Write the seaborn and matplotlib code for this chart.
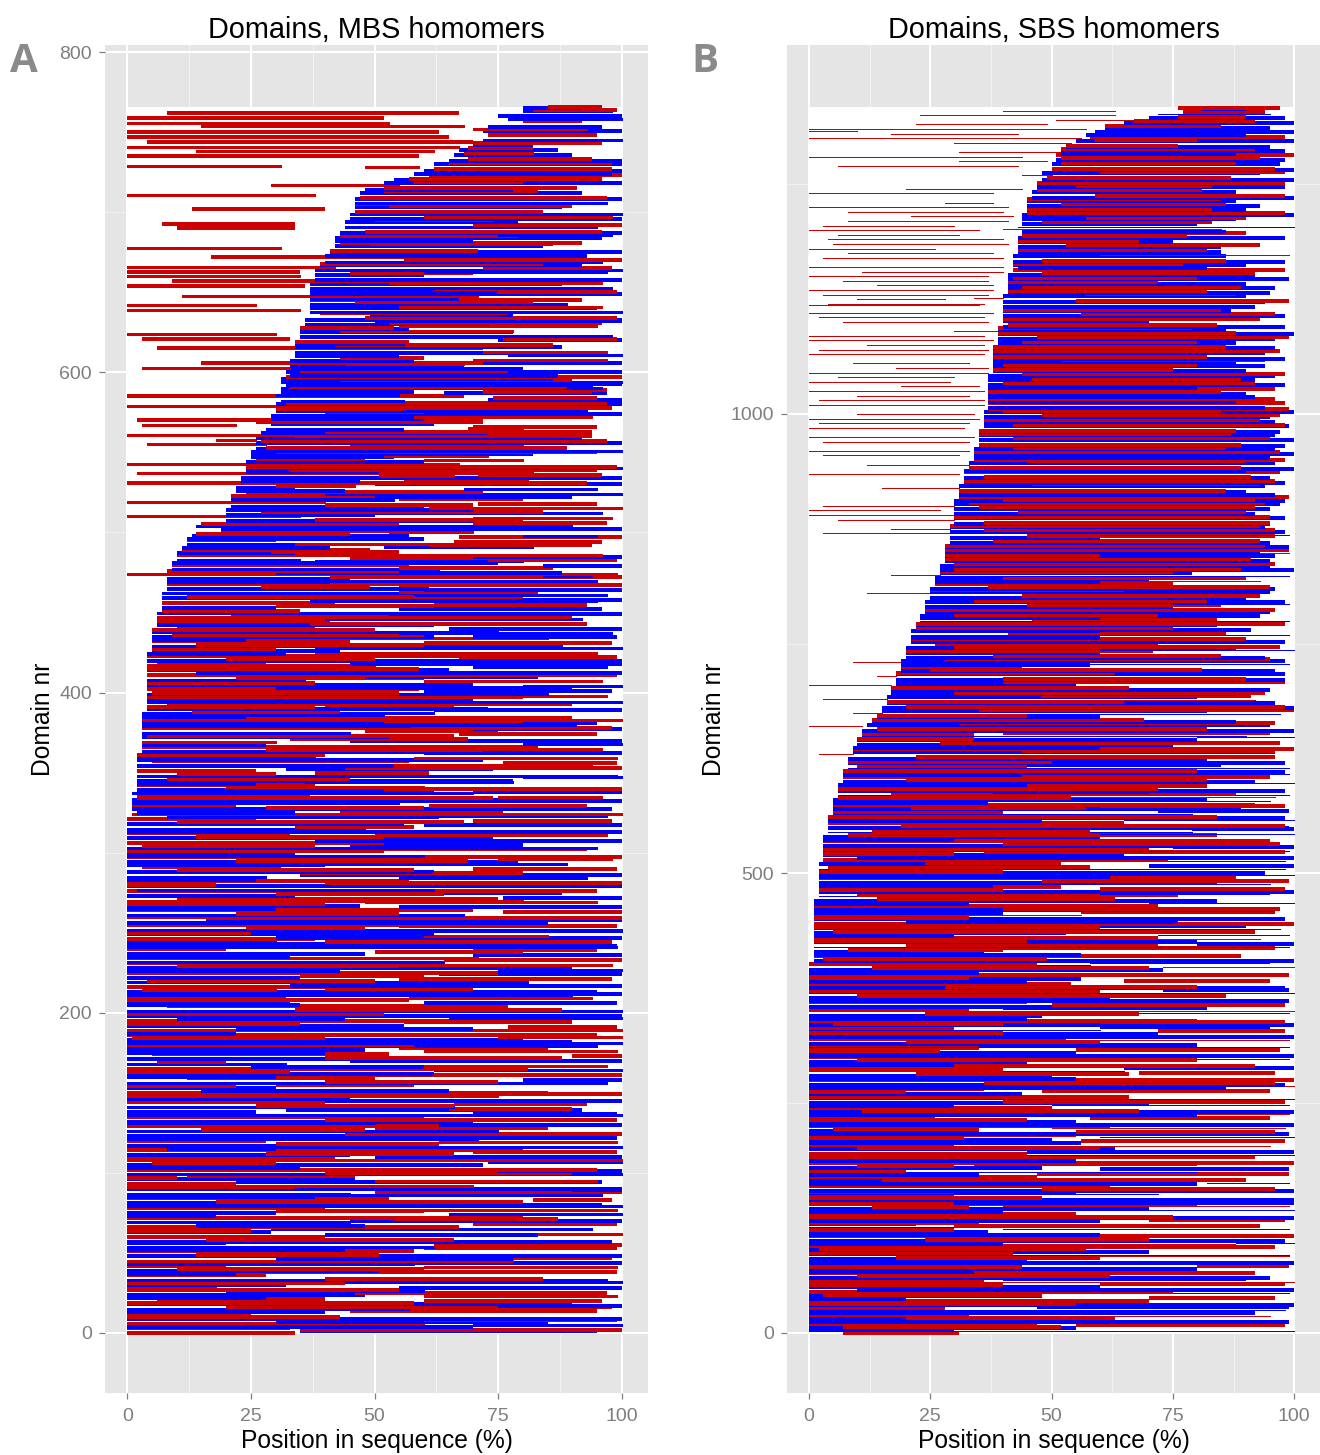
import matplotlib
matplotlib.use("Agg")
import matplotlib.pyplot as plt
from matplotlib.patches import Rectangle
from matplotlib.ticker import MultipleLocator, FixedLocator
import numpy as np
import pandas as pd
import seaborn as sns

# ---------------------------------------------------------------
# Data.  Each string is one band of domains, listed from the TOP of the
# panel downwards.  Tokens: colour/weight letter + start-end (% of sequence)
#   R = thick red, r = thin red, B = thick blue, b = thin blue
# Panel A: one band every 3 domains (765 ... 0)
# Panel B: one band every 5 domains (1330 ... 0)
# ---------------------------------------------------------------
TITLE_A = "Domains, MBS homomers"
TITLE_B = "Domains, SBS homomers"
XLABEL = "Position in sequence (%)"
YLABEL = "Domain nr"
X_TICKS = [0, 25, 50, 75, 100]
Y_TICKS_A = [0, 200, 400, 600, 800]
Y_TICKS_B = [0, 500, 1000]
N_DOMAINS_A = 766
N_DOMAINS_B = 1334
STEP_A = 3
STEP_B = 5

ROWS_A = [
    "B80-92 R85-96", "R8-67 b80-98 R82-99", "R0-52 B75-100", "r0-53 R80-92 b77-100",
    "B73-96 r15-68", "R0-63 B72-100 r70-93", "R0-65 R73-95", "R4-70 b72-100",
    "r0-67 B70-82 R70-96", "r14-62 B67-87 R69-82", "R0-59 B66-90 r68-82", "B65-100 R69-94",
    "r0-31 B62-100 R65-98", "B60-100 R62-98 r48-59", "R61-100 B58-98", "B54-88 R57-96",
    "r29-55 B52-100 R58-80", "B48-78 R52-91",
    "r0-38 B47-92 R52-83", "B46-100 R47-97", "R46-90 b46-97", "R13-40 B46-88 R53-90",
    "b45-100 R46-84", "B45-100 r60-98", "R7-34 B44-79 R50-74", "R10-34 b44-95 R70-100",
    "B43-100 R48-96", "B42-96 R43-79 b75-98", "R43-92 B42-70", "r0-31 B42-84 R49-86",
    "B41-100 R41-71", "R17-73 B40-93", "b40-96 R56-100", "r0-42 B39-92 R39-84",
    "R0-35 b38-100 R72-98", "r0-35 B38-60 R45-70 b60-97",
    "R9-63 B38-100", "R0-36 B37-88 r53-96", "B37-75 R62-96 b37-98", "r11-71 B37-100 R75-99",
    "R37-92 B37-67", "r0-26 b37-89 R46-82", "r0-35 B37-95 r55-96", "B49-78 R39-77 b37-100",
    "B36-100 R48-99", "b36-73 R53-96 B50-100", "B35-57 R35-54 r55-95", "r0-30 B35-78 r43-78",
    "R3-33 B35-75 b70-98", "b34-56 R34-57 B75-100 R76-99", "R6-72 B34-88 R42-86",
    "B34-90 r72-97", "R43-60 B34-55 b77-100",
    "R15-72 B33-58 r70-97", "r3-33 B33-68 r44-68 B60-100", "B32-100 R35-77 B32-80",
    "R32-100 B33-87", "b31-100 R43-90 B31-86", "R33-89 b32-94 B73-100", "B31-58 R77-97 b31-96",
    "R0-68 b30-55 B64-97 R72-94", "b31-56 B73-100 R74-95", "r0-68 B30-100 R32-97",
    "b30-93 R30-56 R56-98", "B29-58 B55-100 R40-60", "R2-72 B29-60 r58-94", "r3-22 B29-62 R26-72",
    "B28-56 r69-80 R70-95", "r0-68 B27-73 R40-94", "r18-26 B26-92 R34-94", "r4-28 B26-100 R27-97",
    "B26-70 R28-89 r45-80", "B25-82 R30-95 b25-100", "R26-48 B25-54 r52-73", "r0-67 B24-60 r60-80",
    "b24-100 R24-99", "r2-82 B24-51 R33-95", "B23-100 r51-66 R71-96", "R0-67 B23-47 r56-81",
    "B22-34 r30-46 B50-100 R52-93", "R24-72 B22-44 b68-95", "B21-90 R21-50 b40-100",
    "r0-40 b21-54 R55-80", "B21-60 R40-70 R71-95", "r27-57 B20-70 r61-100",
    "r0-35 B20-50 b38-96 R55-84", "B20-70 R38-80 r70-98", "b14-90 R15-55 R70-97", "R19-66 B19-100",
    "B13-57 R14-45 r53-70", "R12-30 B12-60 R67-100 b80-95", "B12-34 r34-66 R66-96",
    "R11-49 B11-41 b52-82 R61-94", "r10-96 B10-34 R29-55", "b10-35 R45-94 B70-100",
    "R9-57 B9-75 b38-80 R73-99", "b9-63 R55-86 B84-100", "r0-99 B30-88 R8-55",
    "B8-45 R41-100 b84-94", "R8-83 B8-41 b35-95", "B8-61 R27-49 R55-100", "b7-60 R55-83 B60-100",
    "B7-65 R12-80 b58-97", "R7-42 b37-95 B50-100", "B7-30 R30-62 R62-93", "b6-57 R7-35 B55-96",
    "r6-55 R21-70 B53-100",
    "B6-23 R6-41 b40-92 R55-90", "R10-38 B6-62 R37-93", "b5-75 R5-50 B65-100", "B5-62 R9-60 b55-98",
    "R5-45 B5-24 r25-85 B70-99", "b5-88 R14-60 R60-98", "B5-43 R5-30 b38-100", "R4-72 B4-32 r38-95",
    "B4-100 R20-50 R67-99", "r4-50 B45-100 R6-28", "B4-65 R4-59 b70-97", "R4-85 B14-100",
    "b4-36 R22-60 B48-83 R75-99", "B4-70 R4-38 r60-96", "R4-59 B30-90 b80-100",
    "b4-85 R5-55 B60-98", "B4-64 R4-80 r75-97", "R8-90 b4-100 B40-70",
    "B4-73 R4-38 R40-66", "b3-62 R13-43 B62-100", "R3-90 B3-24 b24-52", "B3-95 R52-80 r3-100",
    "R3-98 b3-57 B57-91", "b3-45 R48-75 B70-100", "B3-53 R4-66 R67-95", "r3-30 B45-100 R33-69",
    "R3-83 B3-28 b80-100", "B3-91 R28-72 r72-96", "b2-38 R2-40 B60-100", "R5-57 B2-72 r58-99",
    "B2-54 r54-94 R76-99", "R2-26 B32-74 R44-100", "b2-99 R10-30 R38-61", "B2-78 R8-45 b80-100",
    "R2-38 B2-26 b36-78", "B2-62 R52-100 r20-60", "R2-37 b1-70 B70-100",
    "B1-85 R2-74 r75-96", "R1-22 b1-55 B44-100", "B1-98 R28-60 R61-93", "r1-100 B2-34 R43-76",
    "R0-26 B8-63 b60-97", "B0-56 R10-68 R70-98", "b0-48 R34-58 B60-100", "R0-33 B0-100",
    "B0-74 R14-52 r50-97", "R0-52 B38-100", "b0-95 R3-38 B45-80", "B0-34 R0-52 R52-93",
    "R0-100 b0-60", "B0-79 R22-69 r75-98", "R3-31 B0-40 b40-89", "B0-62 R10-58 R70-99",
    "b0-28 B35-100 R35-80", "R0-57 B0-26 b55-93",
    "B0-100 R0-18 R40-100", "R0-95 b2-62", "B0-34 R30-64 B64-88", "r0-80 R10-75 B76-100",
    "B0-47 R0-40 r48-95", "R0-70 B0-30 B55-100", "b0-68 R22-55 R76-100", "B16-100 R16-100 r0-16",
    "R0-55 B0-85", "b0-100 R24-48 R55-99", "B0-62 R0-25 b62-100", "R0-38 B30-100 r60-85",
    "B0-71 R40-98 b0-30", "R0-20 b0-99 B59-99", "B0-48 R50-80 R70-95", "r0-71 B0-33 B70-100",
    "R0-30 b0-64 R64-100", "B0-90 R10-55 r55-98",
    "R0-75 B0-43 b75-100", "B0-35 R35-60 B63-100", "b0-81 R4-50 R55-98", "R0-68 B33-100",
    "B0-95 r3-30 R40-70", "R0-32 b0-90 B55-100", "B0-33 R0-57 r57-94", "R8-77 B0-35 B60-99",
    "b0-100 R34-88", "B0-100 R0-52", "R0-73 B10-44 b65-100", "B0-56 R0-35 R56-90",
    "r0-100 B22-70 R77-99", "R0-95 B0-22", "B0-80 R1-40 r75-100", "R0-58 b0-100 B70-90",
    "B0-48 R55-85 b0-95", "R5-53 B0-40 r60-99",
    "B0-65 R40-88 R90-100", "b0-32 R6-20 B45-100", "R0-81 B25-60 r60-97", "B0-62 R0-33 b62-100",
    "R12-50 B0-30 R50-100", "b0-97 R40-75 B80-100", "B0-30 R0-22 R30-58 b57-95", "R0-85 B15-65",
    "B0-45 r0-75 R75-100", "R0-40 B40-100 b0-40", "b0-66 R26-66 R66-93", "B0-26 B32-92 R65-90",
    "R0-60 b0-100 B70-99", "B0-70 R40-99", "R0-63 B63-100 b0-50", "b0-75 R15-48 R50-85",
    "B0-88 R44-100", "R0-28 b0-71 B71-99",
    "B0-63 R30-63 r63-99", "R0-80 B8-30 b30-100", "B0-45 R28-66 R70-99", "r0-100 R0-42 B50-100",
    "B0-72 R5-30 b73-100", "R0-95 B0-35", "b0-75 R40-90 B75-100", "B0-46 R0-10 R12-46 b46-100",
    "R0-22 B22-96 r50-95", "B0-100 R0-34 r34-70", "b0-45 R50-100 B90-100", "R0-53 B0-38 b38-96",
    "B0-80 R18-80 R82-98", "R0-40 b0-100 B60-96", "B0-30 R30-60 r60-99", "R0-80 B0-18 b65-100",
    "b0-45 B45-100 R54-87", "R0-67 B14-48 R70-99",
    "B0-29 R0-25 b29-94", "R0-40 B40-83 r83-100", "B0-98 R16-66", "b0-62 R62-100 B0-20",
    "R0-58 B0-44 R60-99", "B0-100 R14-51", "r0-78 B30-78 R78-98", "R0-20 b0-58 B58-100",
    "B0-51 R10-60 r60-99", "R0-28 B0-22 R28-99", "b0-97 R40-84", "B0-32 R0-44 b44-100",
    "R0-55 B55-100 r0-18", "B0-48 R46-97 b20-60", "R6-40 B0-28 r60-99", "B0-90 R0-58 R60-96",
    "b0-57 R20-98 B75-100", "R0-25 B0-40 R45-95", "B0-100 R0-43", "r0-60 B30-85 R60-99",
    "R0-33 B0-70 b70-100", "R0-34 B35-95 R35-100",
]

ROWS_B = [
    "r40-63 B81-90 R76-97", "r23-63 b72-95 R77-94", "r51-71 B70-98 R76-90", "r22-49 B65-100 R67-92",
    "r0-57 B61-95 R61-85", "r17-43 B59-100 r0-10", "r0-56 R58-98 B57-90", "r30-54 B55-100 R59-80",
    "B53-95 R53-76", "r31-53 B52-98 R52-92", "r0-44 R51-100 B52-88", "r31-49 B51-98 R52-93",
    "r6-43 B50-97 R52-88", "B50-100 R50-96", "r44-50 B48-93 R60-98", "B48-100 R49-87",
    "B47-90 R47-98", "r20-44 B47-98 R55-83", "r0-38 B46-88 R47-81", "B46-100 R59-98",
    "r28-38 B45-88 R45-85", "r0-41 B45-93 R52-86", "r8-40 B45-90 R45-83", "r21-42 B44-100 R45-98",
    "r8-41 B44-88 R57-90", "r3-30 B44-80 R48-83", "r0-35 r40-85 b43-100", "r6-31 R44-90 B44-86",
    "r4-40 B43-98 R44-78", "r5-41 B43-75 R43-68", "r0-26 B43-85 R53-93", "r8-38 B43-85 R43-82",
    "r3-40 B42-86 r60-99", "B42-98 R48-86", "r0-40 B42-90 R42-77", "r11-40 R42-98 B43-82",
    "r0-37 B41-92 R48-92", "r7-37 B41-99 R42-80", "r14-38 B41-90 R41-72", "r0-38 B41-96 R44-89",
    "r3-37 B41-95 R41-82", "r10-28 r34-40 B40-90 R57-88", "r4-36 B40-94 R55-99", "R41-85 B40-92 r0-35",
    "r0-38 B40-87 R40-85", "r2-36 B40-98 R56-96", "r7-37 B40-70 R40-93", "B40-98 R41-84",
    "r30-39 B39-86 R39-79", "r0-36 B39-100 R39-88", "r0-38 B39-96 R47-99", "r12-36 B39-88 R44-80",
    "r2-37 B38-96 R38-86", "r0-36 B38-94 R38-97", "B38-98 R38-82", "r9-33 B38-88 R52-94",
    "r18-37 B38-94 R40-80", "r0-37 B38-90 R38-75", "r6-30 B37-96 R44-98", "r0-29 B37-92 R46-89",
    "r19-35 B37-98 R40-92", "r0-36 R37-96 B37-80", "r10-33 B37-90 R37-85", "r2-36 R37-96 B37-92",
    "r0-36 R37-98 B37-88", "R37-99 B37-94", "r10-34 B36-100 R40-85", "r0-35 B36-95 R48-97",
    "r2-33 B36-96 R36-93", "r0-32 B36-99 R42-98", "B35-97 R35-88", "r0-34 B35-96 R35-87",
    "r3-33 B35-100 R42-95", "B35-98 R35-89", "r0-33 B34-96 R42-86", "r3-31 B34-100 R34-97",
    "R34-98 B34-95", "r12-33 B33-96 R45-90", "B33-100 R33-89", "r0-31 R32-97 B32-90",
    "B32-95 R36-91", "B32-98 R32-96", "r15-31 B31-94 R46-93", "B31-90 R31-86",
    "R31-99 B31-96", "B30-98 R40-92",
    "r3-30 B30-97 R33-94", "r0-27 B30-95 R35-92", "r0-30 B30-92 R43-90", "r6-30 B30-98 R30-95",
    "B30-95 R36-95", "r17-29 B29-94 R29-93", "r3-29 B29-98 R36-96", "B29-60 R45-96 b60-99",
    "B29-95 R38-93", "B28-99 R28-94", "B28-93 R28-99", "B28-96 R28-60 r60-99",
    "B28-95 R28-91", "B27-95 R30-96", "B27-100 R30-89", "r17-27 B27-79 R27-75",
    "B26-70 R40-90 b26-99", "R26-75 B26-60 r60-93", "B25-96 R37-95", "r12-25 B25-95 R25-65",
    "B25-90 R44-93", "B24-98 R34-82", "B24-75 R45-85 b75-99", "B24-95 R24-96",
    "B23-93 R30-72", "b23-99 R46-84 B23-60", "B22-84 R22-98", "B22-91 R22-75",
    "b21-99 R41-86 B21-60", "R21-90 B21-60", "R26-72 B21-98", "B20-88 R30-97",
    "B20-60 R20-71 b60-100", "B20-94 R38-85", "r9-19 B19-98 R28-95", "R19-44 B19-58 b50-99",
    "B19-96 R25-81", "r14-18 B18-98 R18-63", "B18-98 R40-90", "r0-17 B18-55 R40-98",
    "B17-95 R17-66", "B17-88 R30-94", "r3-16 B16-80 R48-91",
    "B16-96 R16-65 r65-92", "B15-100 R20-98", "r9-15 B15-82 R35-100", "B14-60 R14-45 b45-97",
    "B13-88 R13-69", "r0-11 B12-95 R31-96", "B11-100 R14-82", "b11-90 R11-34 R40-95",
    "B10-80 R10-34 b80-100", "B10-75 R27-97", "R9-100 B9-60", "r2-9 B9-96 R44-96",
    "B8-82 R22-96", "B8-98 R8-50", "b8-99 R10-45 B45-85", "B7-98 R7-80",
    "R7-95 B7-44 b44-99", "B7-92 R20-82", "R6-82 B6-45 b60-100", "B6-98 R6-72",
    "b6-99 R17-88 B38-70", "B5-82 R6-54 r54-96", "R5-92 B5-37 b37-95", "B5-89 R21-57 R60-98",
    "b5-79 R5-40 B72-99", "B4-98 R4-84", "R4-65 B4-48 b65-100", "B4-99 R19-98",
    "b4-79 R13-58 B79-100", "B3-60 R8-84 b60-100", "R3-95 B3-30", "B3-97 R40-97",
    "b3-99 R3-70 B75-100", "B3-65 R3-30 R36-98", "R3-74 B10-100", "B2-52 R24-52 b52-98",
    "b2-98 R4-58 B70-100", "B2-94 R2-40", "R2-88 B2-62 b62-100", "B2-84 R48-99",
    "R2-52 B2-38 b38-95", "B2-100 R2-40 R60-98", "b2-60 R10-76 B60-95", "B1-84 R14-63",
    "R1-72 B1-33 b70-100", "B1-96 R40-97", "r1-56 B1-40 R56-96", "B1-98 R1-33",
    "R1-100 B20-76", "b1-97 R1-60 B60-90", "B1-53 R5-92", "R1-72 B1-30 b72-99",
    "B1-80 R1-45 r45-93", "b1-99 R20-72 B80-100", "B1-36 R8-40 R40-96", "R1-89 B1-56",
    "B1-100 R3-49", "b0-58 R0-47 B58-95", "B0-73 R13-70 r73-100", "R0-99 B0-35",
    "B0-56 R0-33 b56-97", "R0-54 B0-45 R65-95", "B0-98 R28-80", "b0-100 R0-60 B73-99",
    "B0-62 R10-86", "R0-45 B0-99", "B0-70 R50-98", "r0-100 R0-33 B40-82",
    "B0-48 R24-68 b68-99", "R0-80 B0-45", "B0-100 R5-40 R60-98", "b0-60 R0-30 B60-95",
    "B0-72 R0-40 R72-98", "R0-53 B0-100", "B0-58 R20-60 r60-99", "R0-35 b0-99 B35-80",
    "B0-55 R0-27 R55-97", "R0-68 B0-100", "B0-45 R10-80 b80-99", "R0-92 B0-30",
    "b0-65 R0-40 B65-100", "B0-50 R22-66 R68-96", "R0-100 B0-55", "B0-98 R36-96",
    "R0-36 B0-86 r86-100", "B0-44 R0-20 R48-95", "b0-100 R0-66", "B0-70 R40-98",
    "R0-50 B0-30 b50-99", "B0-100 R11-68", "R0-26 B0-80 r80-99", "B0-55 R0-45 R58-95",
    "R0-62 B0-100", "B0-35 R5-35 r50-98", "R0-55 B0-99 R55-96", "B0-50 R0-32 b60-100",
    "R0-30 B0-56 R56-98", "B0-63 R10-60 r60-95", "R0-45 B45-100", "B0-28 R0-92 b0-100",
    "R0-100 B0-55", "B0-48 R10-30 R34-80", "b0-80 R0-20 B60-99", "R0-47 B0-35 R47-99",
    "B0-55 R15-90", "R0-62 B0-80 b82-99", "B0-100 R48-96", "R0-30 b0-72 B30-55",
    "B0-100 R0-48", "R0-80 B30-100", "B0-70 R13-33 r40-99", "R0-55 B0-40 b56-100",
    "B0-100 R0-75", "R0-35 B0-60 R70-98", "b0-60 R30-93 B0-22", "B0-37 R0-30 b40-99",
    "R0-100 B0-60", "B0-98 R24-70", "R0-88 B0-40 b88-100", "B0-57 R2-57 R57-96",
    "b0-99 R0-42 B42-70", "B0-45 R18-60 r60-99", "R0-22 B0-100", "B0-80 R0-44 R80-99",
    "R0-92 B0-34", "B0-95 R10-62", "r0-100 R0-36 B40-90", "B0-60 R0-40 R60-98",
    "R0-75 B10-100", "B0-48 R3-48 b48-99", "R0-70 B0-20 R70-96", "B0-100 R0-55",
    "b0-98 R0-28 B47-99", "R0-33 B0-92", "B0-63 R20-63 r63-95", "R0-47 B0-99",
    "B0-55 R7-52 R55-98", "R7-31 b0-100 B0-30",
]

COLORS = {"r": "#CC0000", "b": "#0000FF"}
WIDTHS_A = {"thick": 1.6, "thin": 0.75}
WIDTHS_B = {"thick": 1.45, "thin": 0.72}


def rows_to_frame(rows, step, sub):
    recs = []
    n = len(rows)
    seg = 0
    for k, row in enumerate(rows):
        base = (n - 1 - k) * step
        for j, tok in enumerate(row.split()):
            code = tok[0]
            x0, x1 = (float(v) for v in tok[1:].split("-"))
            y = base + j * sub
            col = code.lower()
            w = "thick" if code.isupper() else "thin"
            recs.append((seg, x0, y, col, w))
            recs.append((seg, x1, y, col, w))
            seg += 1
    return pd.DataFrame(recs, columns=["seg", "x", "y", "col", "w"])


df_a = rows_to_frame(ROWS_A, STEP_A, 1.0)
df_b = rows_to_frame(ROWS_B, STEP_B, 1.7)

sns.set_theme(style="darkgrid", rc={
    "axes.facecolor": "#E5E5E5",
    "grid.color": "white",
    "axes.edgecolor": "#E5E5E5",
    "lines.solid_capstyle": "butt",
    "lines.antialiased": False,
})
plt.rcParams["font.family"] = ["Liberation Sans", "DejaVu Sans"]

fig = plt.figure(figsize=(13.2, 14.55), dpi=100)
W, H = 1320.0, 1455.0
ax_a = fig.add_axes([105 / W, 62 / H, 543 / W, 1348 / H])
ax_b = fig.add_axes([787 / W, 62 / H, 533 / W, 1348 / H])

GRAY = "#7F7F7F"


def style_axis(ax, df, n_dom, yticks, yminor, ylim, title, widths):
    ax.set_axisbelow(True)
    ax.add_patch(Rectangle((0, 0), 100, n_dom, facecolor="white",
                           edgecolor="none", zorder=1))
    sns.lineplot(data=df, x="x", y="y", units="seg", estimator=None,
                 hue="col", palette=COLORS, hue_order=["b", "r"],
                 size="w", sizes=widths, size_order=["thin", "thick"],
                 sort=False, legend=False, ax=ax)
    # stack segments by domain number so overlapping rows interleave
    for ln in ax.lines:
        yd = ln.get_ydata()
        if len(yd):
            ln.set_zorder(2 + float(yd[0]) * 1e-5)
    ax.set_xlim(-4.5, 105.3)
    ax.set_ylim(*ylim)
    ax.xaxis.set_major_locator(FixedLocator(X_TICKS))
    ax.xaxis.set_minor_locator(MultipleLocator(12.5))
    ax.yaxis.set_major_locator(FixedLocator(yticks))
    ax.yaxis.set_minor_locator(MultipleLocator(yminor))
    ax.grid(which="major", color="white", linewidth=1.1)
    ax.grid(which="minor", color="#F2F2F2", linewidth=0.5)
    ax.tick_params(axis="both", which="major", length=4.5, width=0.9,
                   color=GRAY, labelcolor=GRAY, labelsize=14,
                   bottom=True, left=True)
    ax.tick_params(axis="x", which="major", pad=6)
    ax.tick_params(axis="y", which="major", pad=5)
    ax.tick_params(axis="both", which="minor", length=0)
    for s in ax.spines.values():
        s.set_visible(False)
    ax.set_xlabel(XLABEL, fontsize=17.7, color="black", labelpad=3)
    ax.set_ylabel(YLABEL, fontsize=17.7, color="black", labelpad=3)
    ax.set_title(title, fontsize=20.8, color="black", pad=5)


style_axis(ax_a, df_a, N_DOMAINS_A, Y_TICKS_A, 100, (-37.5, 804.5), TITLE_A, WIDTHS_A)
style_axis(ax_b, df_b, N_DOMAINS_B, Y_TICKS_B, 250, (-65.3, 1401.5), TITLE_B, WIDTHS_B)

for lbl, xpix in (("A", 24), ("B", 705)):
    fig.text(xpix / W, 1 - 62 / H, lbl, fontsize=29, fontweight="bold",
             color="#8A8A8A", ha="center", va="center",
             family=["Open Sans", "DejaVu Sans"])

fig.savefig("out.png", dpi=100)
